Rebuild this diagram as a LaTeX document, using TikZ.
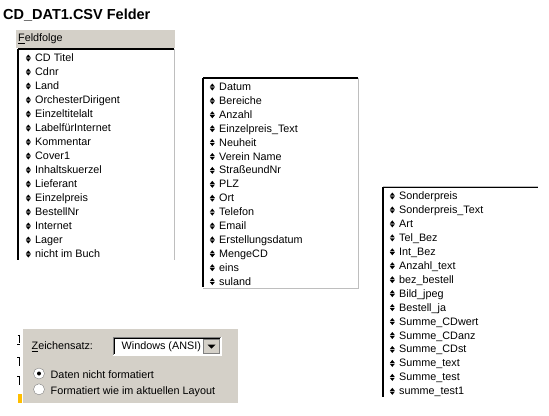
\documentclass[tikz,border=0pt]{standalone}
\usepackage{fontspec}
\setmainfont{Liberation Sans}
\definecolor{dlggrau}{RGB}{212,208,200}
\definecolor{randgrau}{RGB}{190,190,190}
\definecolor{markgelb}{RGB}{255,190,0}
\newcommand{\itemfont}{\fontsize{10.8bp}{12bp}\selectfont}
\tikzset{
  pfeil/.style={inner sep=0pt, minimum width=5bp, minimum height=7bp, fill=white, xshift=-4bp,
    path picture={
      \fill[black] (path picture bounding box.north) -- ([yshift=0.4bp]path picture bounding box.east) -- ([yshift=0.4bp]path picture bounding box.west) -- cycle;
      \fill[black] (path picture bounding box.south) -- ([yshift=-0.4bp]path picture bounding box.east) -- ([yshift=-0.4bp]path picture bounding box.west) -- cycle;}},
  feld/.style={anchor=base west, inner sep=0pt, font=\itemfont, text height=8bp, text depth=1bp,
    label={[pfeil]left:}},
  dlgtext/.style={anchor=base west, inner sep=0pt, font=\itemfont},
  radio/.style={circle, minimum size=11bp, inner sep=0pt, fill=white, draw=gray}
}

\begin{document}
\begin{tikzpicture}[x=1bp, y=-1bp]
  \useasboundingbox[fill=white] (0,0) rectangle (549,415);
  \node[anchor=base west, inner sep=0pt, font=\fontsize{14.5bp}{16bp}\selectfont\bfseries] (titel) at (3,19.3) {CD\_DAT1.CSV Felder};
  % Liste 1
  \fill[dlggrau] (16,30) rectangle (175,48);
  \node[dlgtext] (feldfolge) at (18,41.7) {\underline{F}eldfolge};
  \draw[randgrau] (174,49) -- (174,260);
  \draw[black, line width=1.2bp] (18,49) -- (174,49);
  \draw[black, line width=1.2bp] (18,49) -- (18,260);
  \node[feld] (cdtitel) at (35,61.5) {CD Titel};
  \node[feld] (cdnr) at (35,75.5) {Cdnr};
  \node[feld] (land) at (35,89.5) {Land};
  \node[feld] (orchester) at (35,103.5) {OrchesterDirigent};
  \node[feld] (einzeltitel) at (35,117.5) {Einzeltitelalt};
  \node[feld] (label) at (35,131.5) {LabelfürInternet};
  \node[feld] (kommentar) at (35,145.5) {Kommentar};
  \node[feld] (cover) at (35,159.5) {Cover1};
  \node[feld] (inhalt) at (35,173.5) {Inhaltskuerzel};
  \node[feld] (lieferant) at (35,187.5) {Lieferant};
  \node[feld] (einzelpreis) at (35,201.5) {Einzelpreis};
  \node[feld] (bestellnr) at (35,215.5) {BestellNr};
  \node[feld] (internet) at (35,229.5) {Internet};
  \node[feld] (lager) at (35,243.5) {Lager};
  \node[feld] (buch) at (35,257.5) {nicht im Buch};
  % Liste 2
  \draw[randgrau] (358,78) -- (358,288) -- (203,288);
  \draw[black, line width=1.2bp] (203,78) -- (358,78);
  \draw[black, line width=1.2bp] (203,78) -- (203,287);
  \node[feld] (datum) at (219,90.5) {Datum};
  \node[feld] (bereiche) at (219,104.4) {Bereiche};
  \node[feld] (anzahl) at (219,118.3) {Anzahl};
  \node[feld] (preistext) at (219,132.2) {Einzelpreis\_Text};
  \node[feld] (neuheit) at (219,146.1) {Neuheit};
  \node[feld] (verein) at (219,160) {Verein Name};
  \node[feld] (strasse) at (219,173.9) {StraßeundNr};
  \node[feld] (plz) at (219,187.8) {PLZ};
  \node[feld] (ort) at (219,201.7) {Ort};
  \node[feld] (telefon) at (219,215.6) {Telefon};
  \node[feld] (email) at (219,229.5) {Email};
  \node[feld] (erstellung) at (219,243.4) {Erstellungsdatum};
  \node[feld] (menge) at (219,257.3) {MengeCD};
  \node[feld] (eins) at (219,271.2) {eins};
  \node[feld] (suland) at (219,285.1) {suland};
  % Liste 3
  \draw[randgrau] (383,186) -- (538,186);
  \draw[black, line width=1.2bp] (383,187.5) -- (538,187.5);
  \draw[black, line width=1.2bp] (383,187) -- (383,397);
  \node[feld] (sonderpreis) at (399,199.5) {Sonderpreis};
  \node[feld] (sondertext) at (399,213.45) {Sonderpreis\_Text};
  \node[feld] (art) at (399,227.4) {Art};
  \node[feld] (telbez) at (399,241.35) {Tel\_Bez};
  \node[feld] (intbez) at (399,255.3) {Int\_Bez};
  \node[feld] (anzahltext) at (399,269.25) {Anzahl\_text};
  \node[feld] (bezbestell) at (399,283.2) {bez\_bestell};
  \node[feld] (bild) at (399,297.15) {Bild\_jpeg};
  \node[feld] (bestellja) at (399,311.1) {Bestell\_ja};
  \node[feld] (cdwert) at (399,325.05) {Summe\_CDwert};
  \node[feld] (cdanz) at (399,339) {Summe\_CDanz};
  \node[feld] (cdst) at (399,352.95) {Summe\_CDst};
  \node[feld] (summetext) at (399,366.9) {Summe\_text};
  \node[feld] (summetest) at (399,380.85) {Summe\_test};
  \node[feld] (summetest1) at (399,394.8) {summe\_test1};
  % Dialog unten
  \draw[line width=0.8bp] (17.5,335) -- (19.5,335) (19.5,335) -- (19.5,343) (17,344.5) -- (20,344.5);
  \draw[line width=0.8bp] (17,357) -- (20,357) (19.5,357) -- (19.5,366);
  \draw[line width=0.8bp] (17,376) -- (20,376) (19.5,377) -- (19.5,385);
  \fill[markgelb] (17.5,394) rectangle (21.7,403);
  \fill[dlggrau] (22,329) rectangle (238,403);
  \draw[white] (22.5,329) -- (22.5,403);
  \node[dlgtext] (zeichensatz) at (31.5,349.3) {\underline{Z}eichensatz:};
  \filldraw[fill=white, draw=white] (113,337) rectangle (221,355);
  \draw[gray] (113,354.5) -- (113,337) -- (221,337);
  \draw[black] (114,353.5) -- (114,338) -- (220,338);
  \filldraw[fill=dlggrau, draw=gray] (203.5,339.5) rectangle (219.5,353.5);
  \fill[black] (207.5,344.5) -- (215.5,344.5) -- (211.5,348.5) -- cycle;
  \node[dlgtext] (windows) at (121.5,349.3) {Windows (ANSI)};
  \node[radio] (optdaten) at (39,373.5) {};
  \fill[black] (optdaten) circle (2);
  \node[dlgtext] (daten) at (50.5,378.3) {Daten nicht formatiert};
  \node[radio] (optlayout) at (39,389.3) {};
  \node[dlgtext] (layout) at (50.5,394) {Formatiert wie im aktuellen Layout};
\end{tikzpicture}
\end{document}
